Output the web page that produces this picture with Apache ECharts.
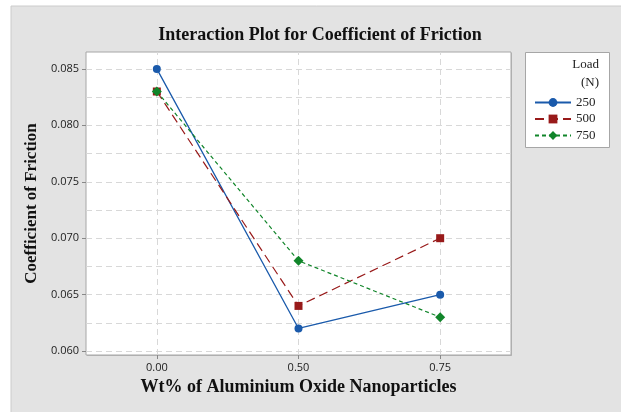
<!DOCTYPE html>
<html>
<head>
<meta charset="utf-8">
<script src="https://cdn.jsdelivr.net/npm/echarts@6/dist/echarts.min.js"></script>
<style>
html,body{margin:0;padding:0;background:#fff;}
#c{width:621px;height:412px;}
</style>
</head>
<body>
<div id="c"></div>
<script>
const categories = ['0.00', '0.50', '0.75'];
const load250 = [0.085, 0.062, 0.065];
const load500 = [0.083, 0.064, 0.070];
const load750 = [0.083, 0.068, 0.063];
const seriesNames = ['250', '500', '750'];
const yTicks = [0.060, 0.065, 0.070, 0.075, 0.080, 0.085];
const yGrid = [0.060, 0.0625, 0.065, 0.0675, 0.070, 0.0725, 0.075, 0.0775, 0.080, 0.0825, 0.085];

const serif = '"Liberation Serif", "DejaVu Serif", serif';
const sans = '"Open Sans", "Noto Sans", "DejaVu Sans", sans-serif';

const chart = echarts.init(document.getElementById('c'));

const gridLineStyle = { color: '#d8d8d8', type: [6, 4], width: 1 };

chart.setOption({
  animation: false,
  title: {
    text: 'Interaction Plot for Coefficient of Friction',
    left: 315, top: 21, textAlign: 'center',
    textStyle: { fontFamily: serif, fontWeight: 'bold', fontSize: 18, color: '#111' }
  },
  grid: {
    left: 86, top: 52, width: 425, height: 303,
    show: true, backgroundColor: '#ffffff', borderColor: '#a6a6a6', borderWidth: 1
  },
  xAxis: {
    type: 'category', data: categories, boundaryGap: true,
    axisLine: { show: false },
    axisTick: { show: true, alignWithLabel: true, length: 4, lineStyle: { color: '#888' } },
    axisLabel: { fontFamily: sans, fontSize: 11, color: '#222', margin: 7 },
    splitLine: { show: false },
    name: 'Wt% of Aluminium Oxide Nanoparticles', nameLocation: 'middle', nameGap: 23,
    nameTextStyle: { fontFamily: serif, fontWeight: 'bold', fontSize: 18, color: '#111' }
  },
  yAxis: {
    type: 'value', min: 0.05965, max: 0.0865,
    axisLine: { show: false },
    axisTick: { show: true, length: 4, customValues: yTicks, lineStyle: { color: '#888' } },
    axisLabel: { fontFamily: sans, fontSize: 11, color: '#222', margin: 7,
      customValues: yTicks, formatter: v => v.toFixed(3) },
    splitLine: { show: false },
    name: 'Coefficient of Friction', nameLocation: 'middle', nameGap: 43, nameRotate: 90,
    nameTextStyle: { fontFamily: serif, fontWeight: 'bold', fontSize: 17, color: '#111' }
  },
  legend: {
    orient: 'vertical', left: 529, top: 91, itemWidth: 36, itemHeight: 11, itemGap: 3.5,
    data: seriesNames,
    textStyle: { fontFamily: serif, fontSize: 13, color: '#222' }
  },
  graphic: [
    { type: 'rect', z: -100, shape: { x: 11, y: 6, width: 620, height: 410 },
      style: { fill: '#e3e3e3', stroke: '#cccccc', lineWidth: 1 } },
    { type: 'rect', z: -50, shape: { x: 87, y: 53, width: 425, height: 303 },
      style: { fill: '#b8b8b8' } },
    { type: 'rect', z: -10, shape: { x: 525.5, y: 52.5, width: 84, height: 95 },
      style: { fill: '#ffffff', stroke: '#a6a6a6', lineWidth: 1 } },
    { type: 'text', z: 10, x: 599, y: 65,
      style: { text: 'Load', fontFamily: serif, fontSize: 13, fill: '#222', align: 'right', verticalAlign: 'middle' } },
    { type: 'text', z: 10, x: 599, y: 83,
      style: { text: '(N)', fontFamily: serif, fontSize: 13, fill: '#222', align: 'right', verticalAlign: 'middle' } }
  ],
  series: [
    {
      type: 'line', name: '__grid', data: [], z: 1, silent: true,
      markLine: {
        z: 1, silent: true, symbol: 'none', precision: 6, label: { show: false }, lineStyle: gridLineStyle,
        emphasis: { disabled: true },
        data: yGrid.map(v => ({ yAxis: v })).concat(categories.map(c => ({ xAxis: c })))
      }
    },
    {
      type: 'line', name: seriesNames[0], data: load250, z: 4,
      symbol: 'circle', symbolSize: 8,
      itemStyle: { color: '#1a5aab' },
      lineStyle: { color: '#1a5aab', width: 1.3, type: 'solid' }
    },
    {
      type: 'line', name: seriesNames[1], data: load500, z: 4,
      symbol: 'rect', symbolSize: 8,
      itemStyle: { color: '#981a1a' },
      lineStyle: { color: '#981a1a', width: 1.2, type: [9, 5] }
    },
    {
      type: 'line', name: seriesNames[2], data: load750, z: 4,
      symbol: 'diamond', symbolSize: 10,
      itemStyle: { color: '#11852a' },
      lineStyle: { color: '#11852a', width: 1.2, type: [4, 3] }
    }
  ]
});
</script>
</body>
</html>
